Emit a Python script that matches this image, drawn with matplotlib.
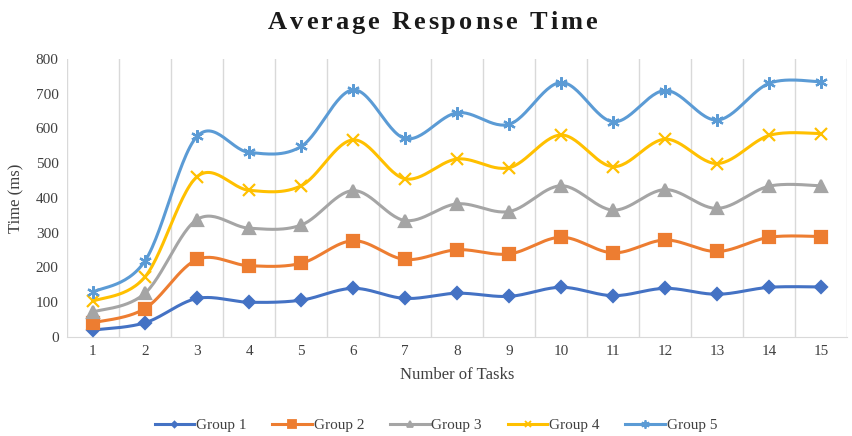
import numpy as np
import matplotlib
matplotlib.use('Agg')
import matplotlib.pyplot as plt
from matplotlib.lines import Line2D
from matplotlib.textpath import TextPath
from matplotlib.font_manager import FontProperties

# ── Data ──────────────────────────────────────────────────────────────────────
tasks = list(range(1, 16))
group1 = [20, 41, 111, 100, 106, 140, 111, 126, 117, 143, 119, 140, 123, 143, 144]
group2 = [41, 82, 223, 205, 212, 277, 223, 251, 239, 287, 242, 279, 246, 287, 289]
group3 = [72, 126, 338, 313, 322, 421, 335, 383, 361, 435, 365, 424, 370, 434, 435]
group4 = [103, 173, 461, 422, 435, 567, 455, 512, 487, 581, 490, 569, 499, 580, 585]
group5 = [129, 219, 577, 531, 548, 711, 571, 645, 612, 732, 619, 709, 624, 730, 734]
labels = ['Group 1', 'Group 2', 'Group 3', 'Group 4', 'Group 5']
title = 'Average Response Time'

colors  = ['#4472C4', '#ED7D31', '#A5A5A5', '#FFC000', '#5B9BD5']
markers = ['D', 's', '^', 'x', (6, 2, 0)]
msizes  = [6, 9, 8, 8, 9]


def smooth(x, y, n=30):
    """Catmull-Rom style curve through the points (Excel 'smoothed line')."""
    x = np.asarray(x, float)
    y = np.asarray(y, float)
    px = np.concatenate([[x[0]], x, [x[-1]]])
    py = np.concatenate([[y[0]], y, [y[-1]]])
    xs, ys = [], []
    t = np.linspace(0, 1, n)[:, None]
    for i in range(1, len(px) - 2):
        p0 = np.array([px[i - 1], py[i - 1]])
        p1 = np.array([px[i], py[i]])
        p2 = np.array([px[i + 1], py[i + 1]])
        p3 = np.array([px[i + 2], py[i + 2]])
        c1 = p1 + (p2 - p0) / 6
        c2 = p2 - (p3 - p1) / 6
        pts = ((1 - t) ** 3) * p1 + 3 * ((1 - t) ** 2) * t * c1 \
            + 3 * (1 - t) * t ** 2 * c2 + t ** 3 * p2
        xs.append(pts[:, 0])
        ys.append(pts[:, 1])
    return np.concatenate(xs), np.concatenate(ys)


def spaced_title(fig, text, xc, y, size, spacing):
    """Title with extra letter spacing, placed character by character."""
    fp = FontProperties(family='Liberation Serif', weight='bold', size=size)
    W = fig.get_figwidth() * fig.dpi
    px_per_pt = fig.dpi / 72

    def ext(s):
        return TextPath((0, 0), s, prop=fp).get_extents().width

    widths = []
    for ch in text:
        if ch == ' ':
            w = ext('a a') - ext('aa')
        else:
            # advance width: glyph between two bars minus the bars themselves
            w = ext('l' + ch + 'l') - ext('ll')
        widths.append(w * px_per_pt + spacing)
    total = sum(widths) - spacing
    x = xc * W - total / 2
    for ch, w in zip(text, widths):
        fig.text(x / W, y, ch, ha='left', va='center', fontproperties=fp,
                 color='#1a1a1a')
        x += w


plt.rcParams['font.family'] = ['Liberation Serif', 'DejaVu Serif']

fig = plt.figure(figsize=(8.53, 4.36), dpi=100)
ax = fig.add_axes([0.0785, 0.227, 0.915, 0.638])

series = [group1, group2, group3, group4, group5]
handles = []
for vals, c, m, ms, lab in zip(series, colors, markers, msizes, labels):
    sx, sy = smooth(tasks, vals)
    ax.plot(sx, sy, color=c, lw=2.2, solid_capstyle='round', zorder=3)
    ax.plot(tasks, vals, ls='none', marker=m, ms=ms, color=c,
            mec=c, mew=1.6, zorder=4)
    handles.append(Line2D([], [], color=c, lw=2.2, marker=m, ms=ms - 3,
                          mec=c, mew=1.3, label=lab))

# vertical gridlines between categories
for b in np.arange(0.5, 16, 1):
    ax.axvline(b, color='#D9D9D9', lw=1, zorder=1)

ax.set_xlim(0.5, 15.5)
ax.set_ylim(0, 800)
ax.set_xticks(tasks)
ax.set_yticks(range(0, 801, 100))
ax.tick_params(length=0, labelsize=11, colors='#404040', pad=6)
for s in ['top', 'right', 'left']:
    ax.spines[s].set_visible(False)
ax.spines['bottom'].set_color('#D9D9D9')

ax.set_xlabel('Number of Tasks', fontsize=12, color='#404040', labelpad=6)
ax.set_ylabel('Time (ms)', fontsize=12, color='#404040', labelpad=8)

spaced_title(fig, title, 0.507, 0.949, 19, 2.9)

fig.legend(handles=handles, loc='center', bbox_to_anchor=(0.511, 0.025),
           ncol=5, frameon=False, fontsize=11, handlelength=2.6,
           columnspacing=1.7, handletextpad=0.1, labelcolor='#404040')

fig.savefig('out.png', dpi=100)
